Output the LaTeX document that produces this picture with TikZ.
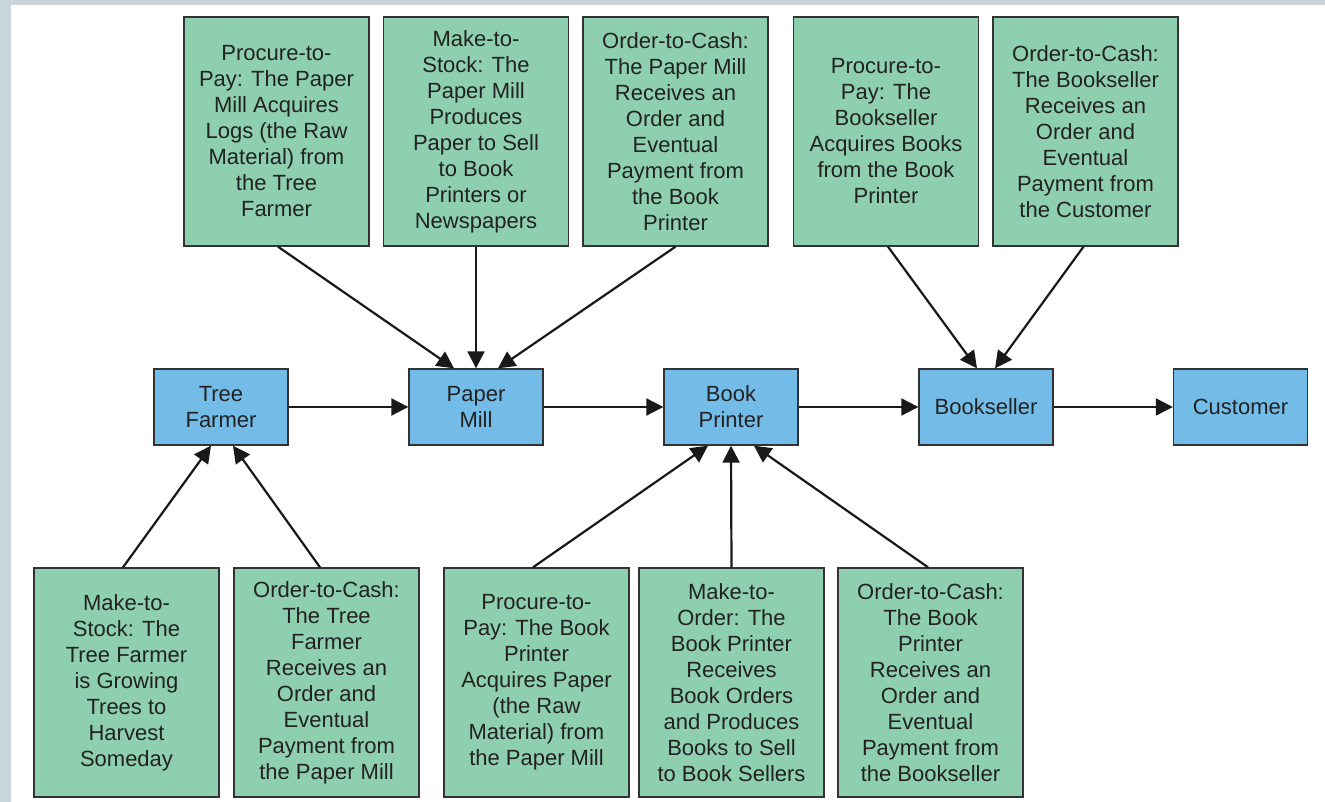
\documentclass[tikz,border=0pt]{standalone}
\usepackage{fontspec}
\setmainfont{Liberation Sans}
\usetikzlibrary{arrows.meta}
\definecolor{frame}{HTML}{C9D4DB}
\definecolor{procgreen}{HTML}{8ECFAF}
\definecolor{partyblue}{HTML}{74BCE8}
\definecolor{ink}{HTML}{222222}
\definecolor{edge}{HTML}{333333}
\tikzset{
  stepbox/.style={draw=edge, line width=1.4pt, fill=procgreen, text=ink,
    minimum width=185pt, minimum height=229pt, inner sep=0pt,
    align=center, font=\fontsize{22}{26}\selectfont},
  party/.style={draw=edge, line width=1.4pt, fill=partyblue, text=ink,
    minimum width=134pt, minimum height=76pt, inner sep=0pt,
    align=center, font=\fontsize{22}{26}\selectfont},
  flow/.style={draw=black!90, line width=2.2pt,
    -{Triangle[length=17pt,width=17pt]}},
}
\begin{document}
\begin{tikzpicture}[x=1pt,y=-1pt]
  % page frame
  \fill[white] (0,0) rectangle (1325,802);
  \fill[frame] (0,0) rectangle (1325,5);
  \fill[frame] (0,0) rectangle (11,802);
  \useasboundingbox (0,0) rectangle (1325,802);

  % trading parties
  \node[party] (tf) at (221,407) {Tree\\Farmer};
  \node[party] (pm) at (476,407) {Paper\\Mill};
  \node[party] (bp) at (731,407) {Book\\Printer};
  \node[party] (bs) at (986,407) {Bookseller};
  \node[party] (cu) at (1240.5,407) {Customer};

  % processes above the chain
  \node[stepbox] (t1) at (276.5,131.5) {Procure-to-\\Pay: The Paper\\Mill Acquires\\Logs (the Raw\\Material) from\\the Tree\\Farmer};
  \node[stepbox] (t2) at (476,131.5) {Make-to-\\Stock: The\\Paper Mill\\Produces\\Paper to Sell\\to Book\\Printers or\\Newspapers};
  \node[stepbox] (t3) at (675.5,131.5) {Order-to-Cash:\\The Paper Mill\\Receives an\\Order and\\Eventual\\Payment from\\the Book\\Printer};
  \node[stepbox] (t4) at (886,131.5) {Procure-to-\\Pay: The\\Bookseller\\Acquires Books\\from the Book\\Printer};
  \node[stepbox] (t5) at (1085.5,131.5) {Order-to-Cash:\\The Bookseller\\Receives an\\Order and\\Eventual\\Payment from\\the Customer};

  % processes below the chain
  \node[stepbox] (b1) at (126.5,682.5) {Make-to-\\Stock: The\\Tree Farmer\\is Growing\\Trees to\\Harvest\\Someday};
  \node[stepbox] (b2) at (326.5,682.5) {Order-to-Cash:\\The Tree\\Farmer\\Receives an\\Order and\\Eventual\\Payment from\\the Paper Mill};
  \node[stepbox] (b3) at (536.5,682.5) {Procure-to-\\Pay: The Book\\Printer\\Acquires Paper\\(the Raw\\Material) from\\the Paper Mill};
  \node[stepbox] (b4) at (731.5,682.5) {Make-to-\\Order: The\\Book Printer\\Receives\\Book Orders\\and Produces\\Books to Sell\\to Book Sellers};
  \node[stepbox] (b5) at (930.5,682.5) {Order-to-Cash:\\The Book\\Printer\\Receives an\\Order and\\Eventual\\Payment from\\the Bookseller};

  % supply chain
  \draw[flow] (tf) -- (pm);
  \draw[flow] (pm) -- (bp);
  \draw[flow] (bp) -- (bs);
  \draw[flow] (bs) -- (cu);

  % process links
  \draw[flow] ([xshift=1.5pt]t1.south) -- ([xshift=-22pt]pm.north);
  \draw[flow] (t2.south) -- (pm.north);
  \draw[flow] (t3.south) -- ([xshift=22pt]pm.north);
  \draw[flow] ([xshift=2pt]t4.south) -- ([xshift=-9pt]bs.north);
  \draw[flow] ([xshift=-2pt]t5.south) -- ([xshift=9pt]bs.north);

  \draw[flow] ([xshift=-3.5pt]b1.north) -- ([xshift=-10pt]tf.south);
  \draw[flow] ([xshift=-6.5pt]b2.north) -- ([xshift=12pt]tf.south);
  \draw[flow] ([xshift=-3.5pt]b3.north) -- ([xshift=-23pt]bp.south);
  \draw[flow] (b4.north) -- (bp.south);
  \draw[flow] ([xshift=-2.5pt]b5.north) -- ([xshift=23pt]bp.south);
\end{tikzpicture}
\end{document}
